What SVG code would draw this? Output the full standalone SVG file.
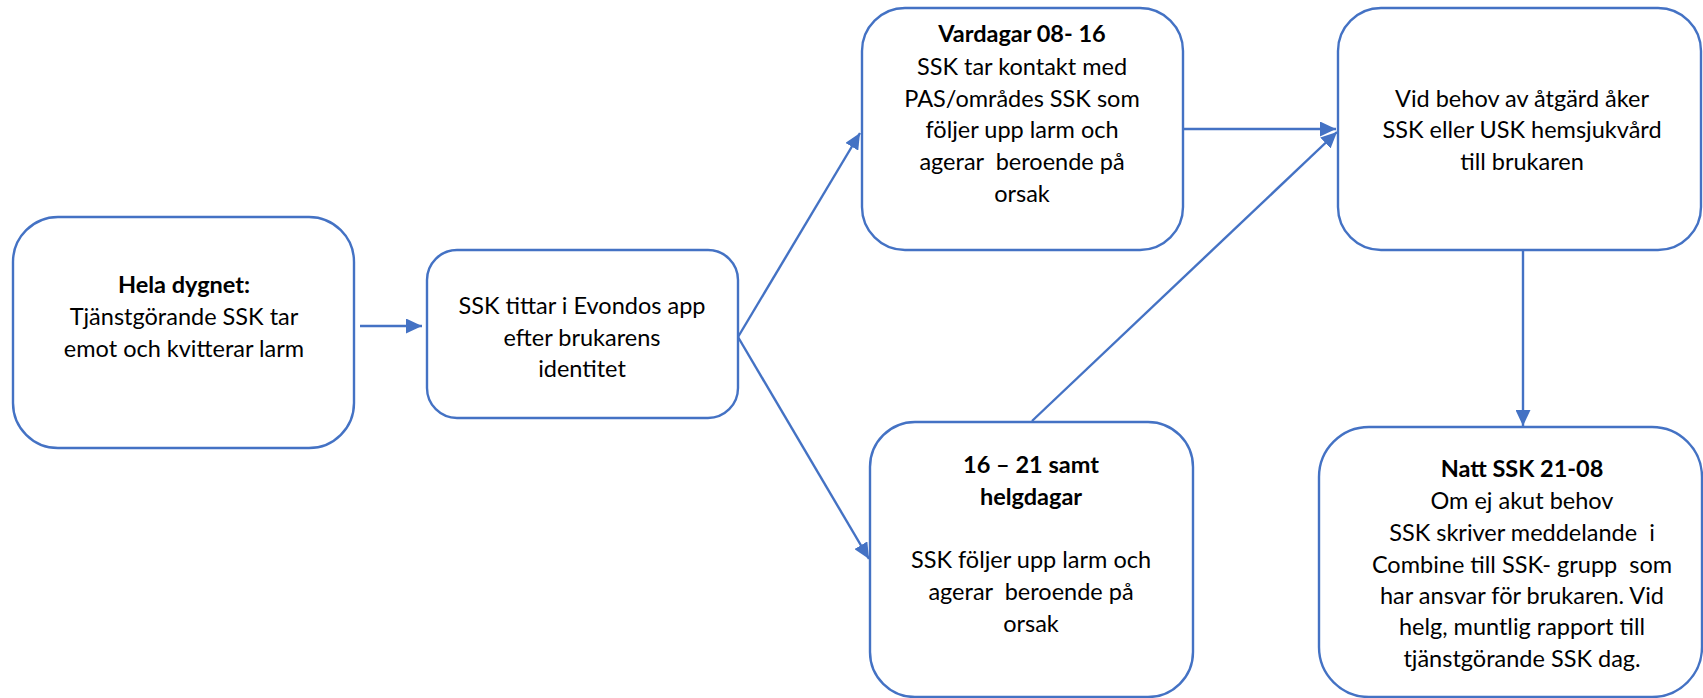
<svg xmlns="http://www.w3.org/2000/svg" width="1703" height="698" viewBox="0 0 1703 698">
<defs>
<style>
.box{fill:#fff;stroke:#4472C4;stroke-width:2.4}
.t{font-family:Lato,"Open Sans","Liberation Sans",sans-serif;font-size:23.5px;fill:#000;text-anchor:middle;white-space:pre}
.b{font-weight:bold}
.c{stroke:#4472C4;stroke-width:2.4;fill:none;marker-end:url(#ah)}
</style>
<marker id="ah" markerWidth="16" markerHeight="15" refX="16" refY="7.5" orient="auto" markerUnits="userSpaceOnUse" viewBox="0 0 16 15">
<path d="M0,0 L16,7.5 L0,15 z" fill="#4472C4"/>
</marker>
</defs>
<rect width="1703" height="698" fill="#fff"/>
<g id="connectors">
<line class="c" x1="360" y1="326" x2="422" y2="326"/>
<line class="c" x1="738" y1="337" x2="860" y2="133"/>
<line class="c" x1="738" y1="337" x2="869" y2="559"/>
<line class="c" x1="1183" y1="129" x2="1336" y2="129"/>
<line class="c" x1="1032" y1="421" x2="1337" y2="132"/>
<line class="c" x1="1523" y1="250" x2="1523" y2="426"/>
</g>
<g id="n1">
<rect class="box" x="13" y="217" width="341" height="231" rx="45"/>
<text class="t b" x="184" y="293">Hela dygnet:</text>
<text class="t" x="184" y="325">Tjänstgörande SSK tar</text>
<text class="t" x="184" y="357">emot och kvitterar larm</text>
</g>
<g id="n2">
<rect class="box" x="427" y="250" width="311" height="168" rx="30"/>
<text class="t" x="582" y="314">SSK tittar i Evondos app</text>
<text class="t" x="582" y="346">efter brukarens</text>
<text class="t" x="582" y="377">identitet</text>
</g>
<g id="n3">
<rect class="box" x="862" y="8" width="321" height="242" rx="43"/>
<text class="t b" x="1022" y="42">Vardagar 08- 16</text>
<text class="t" x="1022" y="75">SSK tar kontakt med</text>
<text class="t" x="1022" y="107">PAS/områdes SSK som</text>
<text class="t" x="1022" y="138">följer upp larm och</text>
<text class="t" x="1022" y="170">agerar  beroende på</text>
<text class="t" x="1022" y="202">orsak</text>
</g>
<g id="n4">
<rect class="box" x="870" y="422" width="323" height="275" rx="45"/>
<text class="t b" x="1031" y="473">16 – 21 samt</text>
<text class="t b" x="1031" y="505">helgdagar</text>
<text class="t" x="1031" y="568">SSK följer upp larm och</text>
<text class="t" x="1031" y="600">agerar  beroende på</text>
<text class="t" x="1031" y="632">orsak</text>
</g>
<g id="n5">
<rect class="box" x="1338" y="8" width="363" height="242" rx="43"/>
<text class="t" x="1522" y="107">Vid behov av åtgärd åker</text>
<text class="t" x="1522" y="138">SSK eller USK hemsjukvård</text>
<text class="t" x="1522" y="170">till brukaren</text>
</g>
<g id="n6">
<rect class="box" x="1319" y="427" width="383" height="270" rx="50"/>
<text class="t b" x="1522" y="477">Natt SSK 21-08</text>
<text class="t" x="1522" y="509">Om ej akut behov</text>
<text class="t" x="1522" y="541">SSK skriver meddelande  i</text>
<text class="t" x="1522" y="573">Combine till SSK- grupp  som</text>
<text class="t" x="1522" y="604">har ansvar för brukaren. Vid</text>
<text class="t" x="1522" y="635">helg, muntlig rapport till</text>
<text class="t" x="1522" y="667">tjänstgörande SSK dag.</text>
</g>
</svg>
